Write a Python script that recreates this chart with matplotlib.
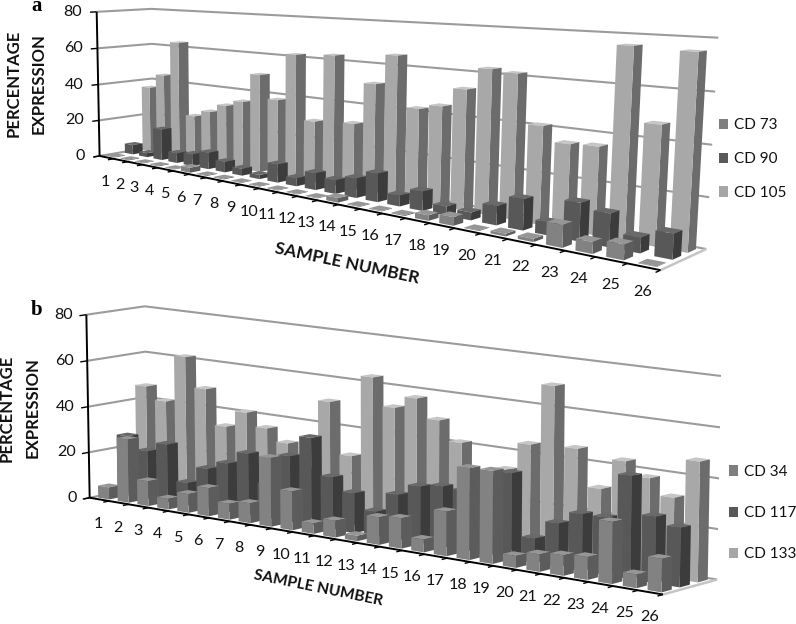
import numpy as np
import matplotlib
matplotlib.use("Agg")
import matplotlib.pyplot as plt
from matplotlib.patches import Patch
from mpl_toolkits.mplot3d.art3d import Line3DCollection

plt.rcParams['font.family'] = ['Lato', 'DejaVu Sans']

samples = [str(i) for i in range(1, 27)]
cd73 = [0.4, 0.4, 0.3, 0.4, 0.3, 2.6, 0.4, 0.4, 0.3, 0.3, 0.3, 0.3, 0.3, 2.1, 0.3, 0.3, 0.4, 2.4, 3.7, 0.3, 1.1, 1.3, 9, 4.6, 5.9, 0.2]
cd90 = [5.3, 2.2, 16.8, 5.3, 6.3, 8.7, 5.5, 3.6, 2.1, 9.1, 4.0, 8.2, 6.6, 9.2, 13.2, 5.0, 8.7, 4.0, 3.4, 8.2, 13.0, 5.3, 15.4, 13.2, 6.1, 9.8]
cd105 = [36.4, 44.2, 63.1, 23.8, 27.4, 31.9, 35.1, 50.1, 38.3, 61.9, 30.0, 63.1, 31.5, 51.4, 65.4, 42.2, 44.6, 53.1, 62.8, 61.8, 41.2, 35.2, 35.7, 76.1, 47.1, 75.3]
cd34 = [5.3, 27.6, 10.8, 4.6, 8.1, 12.1, 6.8, 8.5, 29.1, 16.4, 4.4, 7.0, 2.3, 11.4, 12.5, 5.3, 18.2, 37.2, 37.5, 4.8, 7.0, 8.2, 9.1, 24.5, 5.4, 13.1]
cd117 = [26.2, 20.9, 25.2, 9.8, 17.3, 21.0, 26.6, 14.7, 28.2, 37.3, 22.1, 16.8, 10.5, 19.0, 23.8, 25.3, 25.0, 31.5, 34.9, 10.0, 17.6, 22.8, 22.9, 40.8, 26.2, 23.4]
cd133 = [46.6, 41.2, 61.7, 49.0, 34.0, 41.3, 35.8, 30.7, 20.9, 50.9, 29.3, 63.6, 52.2, 57.3, 49.5, 41.5, 28.4, 33.2, 44.8, 69.7, 45.8, 31.1, 43.5, 38.2, 31.9, 47.5]
zticks = [0, 20, 40, 60, 80]

WIDTH, HEIGHT = 796, 624
BOX = (26.0, 3.0, 80.0)

# calibration of each panel's 3D box onto the figure (world corner -> pixel)
CALIB_A = [((0, 0, 0), (101.5, 155)), ((26, 0, 0), (660, 272)), ((26, 3, 0), (707, 247)),
           ((0, 3, 0), (151, 148)), ((0, 0, 80), (95, 11.5)), ((0, 3, 80), (153, 9)),
           ((26, 3, 80), (718, 38))]
CALIB_B = [((0, 0, 0), (89, 497)), ((26, 0, 0), (663, 595)), ((26, 3, 0), (717, 579)),
           ((0, 3, 0), (148, 487)), ((0, 0, 80), (87, 315)), ((0, 3, 80), (144, 306)),
           ((26, 3, 80), (721, 376))]


def camera(calib):
    rows = []
    for (x, y, z), (u, v) in calib:
        rows.append([x, y, z, 1, 0, 0, 0, 0, -u * x, -u * y, -u * z, -u])
        rows.append([0, 0, 0, 0, x, y, z, 1, -v * x, -v * y, -v * z, -v])
    P = np.linalg.svd(np.array(rows, float))[2][-1].reshape(3, 4)
    if P[2, 3] < 0:
        P = -P
    return P


def px(x, y):
    return x / WIDTH, 1 - y / HEIGHT


def make_axes(fig, P):
    ax = fig.add_axes([0, 0, 1, 1], projection='3d')
    ax.set_axis_off()
    ax.patch.set_visible(False)
    ax.computed_zorder = False
    ax.apply_aspect = lambda position=None: None

    def get_proj():
        inv = ax.transData.inverted()
        o = inv.transform((0, HEIGHT))
        ex = inv.transform((1, HEIGHT)) - o
        ey = inv.transform((0, HEIGHT - 1)) - o
        M = np.zeros((4, 4))
        M[0] = ex[0] * P[0] + ey[0] * P[1] + o[0] * P[2]
        M[1] = ex[1] * P[0] + ey[1] * P[1] + o[1] * P[2]
        M[2] = np.array([0.01, 0.02, 0.003, 0.5]) * np.abs(P[2, 3])
        M[3] = P[2]
        return M
    ax.get_proj = get_proj
    return ax


def draw_box(ax, row, values, front, side, top, base_z):
    none = (0, 0, 0, 0)
    c = [none, top, front, none, none, side]
    w = 0.56
    d = 0.56
    for i, v in enumerate(values):
        ax.bar3d(i + 0.5 - w / 2, row + 0.5 - d / 2, 0, w, d, v, color=c, shade=False,
                 edgecolor='none', linewidth=0, zorder=base_z + i)


def gray(v):
    return (v / 255, v / 255, v / 255, 1)


def lines(ax, segs, color, lw, zorder):
    ax.add_collection3d(Line3DCollection(segs, colors=color, linewidths=lw, zorder=zorder))


def panel(fig, calib, series, ztick_dx):
    P = camera(calib)
    ax = make_axes(fig, P)
    xm, ym, zm = BOX

    def project(x, y, z):
        h = P @ np.array([x, y, z, 1.0])
        return h[0] / h[2], h[1] / h[2]

    grid = []
    for z in zticks:
        grid.append([(0, 0, z), (0, ym, z), (xm, ym, z)])
    lines(ax, grid, '#9b9b9b', 1.5, 1)
    lines(ax, [[(xm, 0, 0), (xm, ym, 0)]], '#c4c4c4', 1.8, 1)
    axis = [[(0, 0, 0), (0, 0, zm)], [(0, 0, 0), (xm, 0, 0)]]
    lines(ax, axis, 'black', 1.4, 3)
    ticks = [[(0, -0.35, z), (0, 0, z)] for z in zticks]
    ticks += [[(k, -0.3, 0), (k, 0, 0)] for k in range(27)]
    lines(ax, ticks, 'black', 1.0, 3)
    for k, s in enumerate(samples):
        u, v = project(k + 0.5, 0, 0)
        fig.text(*px(u - 1, v + 25), s, ha='center', va='center', fontsize=11.6, color='#111111')
    for z in zticks:
        u, v = project(0, 0, z)
        fig.text(*px(u + ztick_dx, v), str(z), ha='right', va='center', fontsize=11.6, color='#111111')
    shades = [(130, 92, 150), (88, 60, 105), (168, 108, 198)]
    for row in (2, 1, 0):
        f, s, t = shades[row]
        draw_box(ax, row, series[row], gray(f), gray(s), gray(t), 10 + (2 - row) * 40)
    return ax


fig = plt.figure(figsize=(WIDTH / 100, HEIGHT / 100), dpi=100, facecolor='white')

panel(fig, CALIB_A, [cd73, cd90, cd105], -14.5)
panel(fig, CALIB_B, [cd34, cd117, cd133], -13)

legend_cols = ['#7f7f7f', '#595959', '#a6a6a6']
for names, anchor, spacing, fs in ((['CD 73', 'CD 90', 'CD 105'], px(719, 159), 1.3, 11),
                                   (['CD 34', 'CD 117', 'CD 133'], px(729, 513), 1.78, 11)):
    handles = [Patch(facecolor=c, edgecolor='none', label=n) for c, n in zip(legend_cols, names)]
    fig.legend(handles=handles, loc='center left', bbox_to_anchor=anchor, frameon=False,
               fontsize=fs, handlelength=0.62, handleheight=0.65, handletextpad=0.38,
               labelspacing=spacing, borderpad=0, borderaxespad=0, labelcolor='#111111')

for (x, y, s) in ((26, 83.5, 'PERCENTAGE\nEXPRESSION'), (20, 408, 'PERCENTAGE\nEXPRESSION')):
    fig.text(*px(x, y), s, rotation=90, ha='center', va='center', fontsize=12, weight='bold',
             linespacing=1.75, multialignment='center', color='#111111')
fig.text(*px(347, 263), 'SAMPLE NUMBER', rotation=-12, ha='center', va='center', fontsize=12.5,
         weight='bold', rotation_mode='anchor', color='#111111')
fig.text(*px(318, 588), 'SAMPLE NUMBER', rotation=-11.6, ha='center', va='center', fontsize=11.2,
         weight='bold', rotation_mode='anchor', color='#111111')
fig.text(*px(37, 6), 'a', family='Liberation Serif', weight='bold', fontsize=15, ha='center', va='center')
fig.text(*px(37, 310), 'b', family='Liberation Serif', weight='bold', fontsize=15, ha='center', va='center')

fig.savefig('out.png', dpi=100, facecolor='white')
